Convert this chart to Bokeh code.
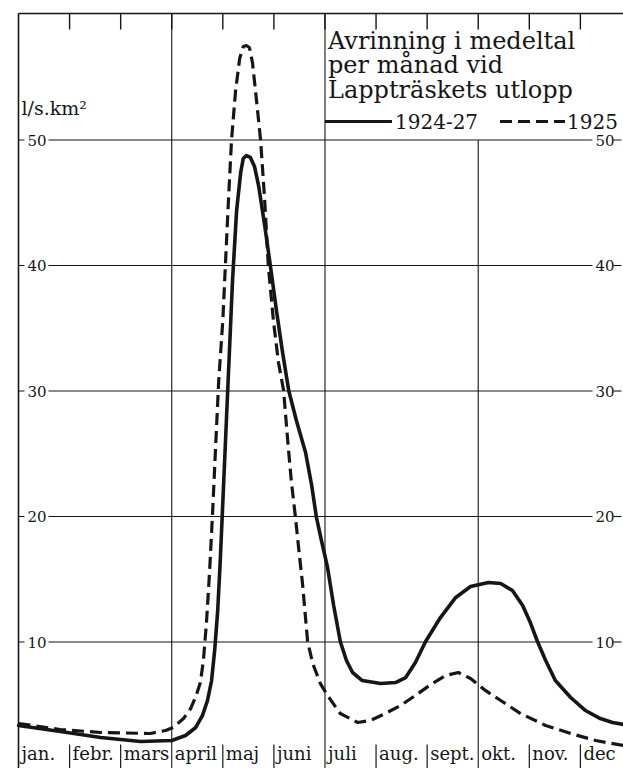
from bokeh.plotting import figure
from bokeh.models import ColumnDataSource, Range1d
from bokeh.core.properties import value
from bokeh.embed import file_html
from bokeh.resources import INLINE

# ---------------- data ----------------
months = ["jan.", "febr.", "mars", "april", "maj", "juni",
          "juli", "aug.", "sept.", "okt.", "nov.", "dec"]
y_ticks = [10, 20, 30, 40, 50]

# 1924-27 mean (x = position in months from 1 Jan, y = l/s.km2)
mean_x = [0.00, 0.82, 1.61, 2.39, 3.00, 3.27, 3.47, 3.60, 3.70, 3.78, 3.84, 3.90,
          3.95, 4.01, 4.07, 4.13, 4.19, 4.27, 4.35, 4.40, 4.46, 4.54, 4.62, 4.70,
          4.82, 4.93, 5.05, 5.17, 5.29, 5.44, 5.62, 5.74, 5.83, 5.93, 6.05, 6.17,
          6.30, 6.42, 6.54, 6.73, 7.09, 7.38, 7.58, 7.77, 7.97, 8.26, 8.56, 8.85,
          9.20, 9.44, 9.67, 9.87, 10.02, 10.16, 10.32, 10.51, 10.81, 11.10, 11.39,
          11.63, 11.84]
mean_y = [3.35, 2.87, 2.39, 2.07, 2.15, 2.55, 3.19, 4.14, 5.34, 6.93, 9.32, 12.51,
          16.49, 22.07, 27.65, 33.23, 38.80, 44.38, 47.41, 48.53, 48.76, 48.61, 47.89, 46.37,
          43.19, 40.00, 36.41, 33.07, 30.04, 27.65, 25.10, 22.47, 20.00, 18.09, 15.94, 12.91,
          10.04, 8.53, 7.57, 6.93, 6.69, 6.77, 7.17, 8.37, 10.04, 11.95, 13.55, 14.42,
          14.74, 14.66, 14.10, 12.91, 11.55, 10.04, 8.53, 6.93, 5.58, 4.54, 3.90,
          3.59, 3.43]

# 1925
y1925_x = [0.00, 0.82, 1.61, 2.58, 2.88, 3.03, 3.23, 3.37, 3.48, 3.56, 3.62, 3.68,
           3.74, 3.80, 3.86, 3.92, 4.00, 4.05, 4.11, 4.17, 4.25, 4.33, 4.40, 4.46,
           4.52, 4.58, 4.66, 4.74, 4.82, 4.89, 4.99, 5.09, 5.19, 5.27, 5.34, 5.42,
           5.50, 5.56, 5.66, 5.76, 5.91, 6.05, 6.30, 6.64, 6.89, 7.18, 7.48, 7.77,
           8.07, 8.36, 8.61, 8.85, 9.14, 9.44, 9.83, 10.32, 10.81, 11.30, 11.84]
y1925_y = [3.51, 3.03, 2.79, 2.71, 2.95, 3.19, 3.90, 4.70, 5.74, 6.77, 8.53, 11.55,
           15.54, 20.32, 25.66, 30.84, 35.62, 40.00, 45.18, 49.96, 53.94, 56.49, 57.45, 57.53,
           57.37, 56.18, 53.15, 49.96, 45.18, 40.00, 35.62, 32.27, 30.04, 26.06, 22.87, 20.00,
           16.89, 14.66, 10.04, 8.29, 6.69, 5.74, 4.30, 3.59, 3.75, 4.30, 4.94, 5.74,
           6.61, 7.33, 7.57, 7.09, 6.14, 5.34, 4.30, 3.35, 2.71, 2.15, 1.75]

title_lines = ["Avrinning i medeltal", "per månad vid", "Lappträskets utlopp"]
legend_labels = ["1924-27", "1925"]
unit_label = "l/s.km²"

# ---------------- layout constants ----------------
PXM = 51.08   # px per month
PXV = 12.55   # px per unit
W, H = 623, 768
ML, MT = 16, 11
X0 = -2 / PXM
X1 = X0 + (W - ML) / PXM
Y1 = 60.24
Y0 = Y1 - (H - MT) / PXV

INK = "#161616"
SERIF = value("DejaVu Serif")

p = figure(width=W, height=H, x_range=Range1d(X0, X1), y_range=Range1d(Y0, Y1),
           x_axis_type=None, y_axis_type=None, toolbar_location=None,
           output_backend="svg", min_border=0, min_border_left=ML,
           min_border_top=MT, min_border_right=0, min_border_bottom=0)
p.outline_line_color = None
p.background_fill_color = "white"
p.border_fill_color = "white"

v_top = Y1 - 2 / PXV

# frame: top and left borders
p.segment(x0=[0, 0], y0=[v_top, v_top], x1=[X1 + 1, 0], y1=[v_top, Y0 - 1],
          line_color=INK, line_width=1.6)

# top ticks at month boundaries
tick_m = list(range(1, 12))
p.segment(x0=tick_m, y0=[v_top] * len(tick_m), x1=tick_m,
          y1=[v_top - 16 / PXV] * len(tick_m), line_color=INK, line_width=1.4)

# quarter vertical grid lines
p.segment(x0=[3, 6, 9], y0=[v_top, v_top, 50.0], x1=[3, 6, 9], y1=[Y0 - 1] * 3,
          line_color=INK, line_width=1.1)

# horizontal grid lines with labels at both ends
gl_x0 = 30 / PXM
gl_x1 = 574 / PXM
p.segment(x0=[gl_x0] * len(y_ticks), y0=y_ticks, x1=[gl_x1] * len(y_ticks), y1=y_ticks,
          line_color=INK, line_width=1.1)
p.segment(x0=[0] * len(y_ticks), y0=y_ticks, x1=[6 / PXM] * len(y_ticks), y1=y_ticks,
          line_color=INK, line_width=1.1)
p.segment(x0=[595 / PXM] * len(y_ticks), y0=y_ticks, x1=[603 / PXM] * len(y_ticks), y1=y_ticks,
          line_color=INK, line_width=1.1)
tick_txt = [str(t) for t in y_ticks]
p.text(x=[9 / PXM] * len(y_ticks), y=y_ticks, text=tick_txt, text_font=SERIF,
       text_font_size="15px", text_baseline="middle", text_align="left", text_color=INK)
p.text(x=[577 / PXM] * len(y_ticks), y=y_ticks, text=tick_txt, text_font=SERIF,
       text_font_size="15px", text_baseline="middle", text_align="left", text_color=INK)

# unit label
p.text(x=[3 / PXM], y=[Y1 - 96 / PXV], text=[unit_label], text_font=SERIF,
       text_font_size="19px", text_baseline="alphabetic", text_align="left", text_color=INK)

# month separators and labels along the bottom
sep_m = [1, 2, 4, 5, 7, 8, 10, 11]
p.segment(x0=sep_m, y0=[Y0 + 24 / PXV] * len(sep_m), x1=sep_m, y1=[Y0 - 1] * len(sep_m),
          line_color=INK, line_width=1.2)
p.text(x=[i + 3 / PXM for i in range(12)], y=[Y0 + 15 / PXV] * 12, text=months,
       text_font=SERIF, text_font_size="18px", text_baseline="alphabetic",
       text_align="left", text_color=INK)

# curves
src_mean = ColumnDataSource(dict(x=mean_x, y=mean_y))
src_1925 = ColumnDataSource(dict(x=y1925_x, y=y1925_y))
p.line("x", "y", source=src_1925, line_color=INK, line_width=3.2, line_dash="12 6",
       line_join="round")
p.line("x", "y", source=src_mean, line_color=INK, line_width=3.6, line_join="round",
       line_cap="round")

# title block (upper right box)
tx = 6 + 3 / PXM
for line, base in zip(title_lines, [29, 53, 78]):
    p.text(x=[tx], y=[Y1 - base / PXV], text=[line], text_font=SERIF,
           text_font_size="24px", text_baseline="alphabetic", text_align="left",
           text_color=INK)

# legend
leg_v = Y1 - 110 / PXV
p.line(x=[6, 6 + 67 / PXM], y=[leg_v, leg_v], line_color=INK, line_width=3.2)
p.text(x=[6 + 70 / PXM], y=[leg_v], text=[legend_labels[0]], text_font=SERIF,
       text_font_size="20px", text_baseline="middle", text_align="left", text_color=INK)
p.line(x=[6 + 175 / PXM, 6 + 240 / PXM], y=[leg_v, leg_v], line_color=INK,
       line_width=3.0, line_dash="12 6")
p.text(x=[6 + 242 / PXM], y=[leg_v], text=[legend_labels[1]], text_font=SERIF,
       text_font_size="20px", text_baseline="middle", text_align="left", text_color=INK)

open("out.html", "w").write(file_html(p, INLINE))
